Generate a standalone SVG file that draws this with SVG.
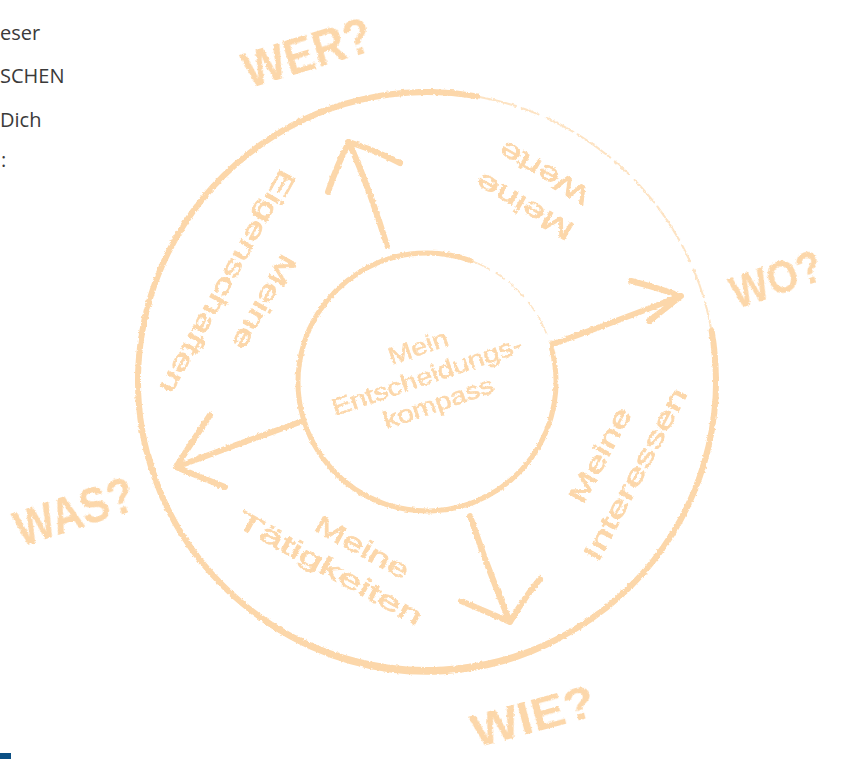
<svg xmlns="http://www.w3.org/2000/svg" width="841" height="759" viewBox="0 0 841 759">
  <style>
    .ink { fill: none; stroke: #fcd7aa; stroke-linecap: round; stroke-linejoin: round; }
    .faint { fill: none; stroke: #fcd7aa; stroke-linecap: round; opacity: 0.7; }
    .hand { font-family: "Liberation Sans", "DejaVu Sans", sans-serif; fill: #fcd7aa; text-anchor: middle; }
    .lbl { font-size: 26px; stroke: #fcd7aa; stroke-width: 0.7; }
    .big { font-size: 50px; font-weight: bold; }
    .big2 { font-size: 46px; font-weight: bold; }
    .mid { font-size: 24px; stroke: #fcd7aa; stroke-width: 0.5; }
    .side { font-family: "Open Sans", "Noto Sans", sans-serif; font-size: 20px; fill: #3a3a3a; }
  </style>
  <defs>
    <filter id="rough" x="-10%" y="-10%" width="120%" height="120%">
      <feTurbulence type="fractalNoise" baseFrequency="0.35" numOctaves="2" seed="3" result="n"/>
      <feDisplacementMap in="SourceGraphic" in2="n" scale="3" xChannelSelector="R" yChannelSelector="G"/>
    </filter>
  </defs>

  <g id="sidetext">
    <text class="side" x="0" y="40">eser</text>
    <text class="side" x="0" y="83">SCHEN</text>
    <text class="side" x="0" y="127">Dich</text>
    <text class="side" x="1" y="167">:</text>
  </g>
  <rect id="bluemark" x="0" y="753" width="11" height="6" fill="#0b4f84"/>

  <g filter="url(#rough)">
    <g id="outer-ring">
      <path class="ink" stroke-width="6" d="M711.6,330.8 A289,289 0 1 1 477.2,96.4"/>
      <path class="ink" stroke-width="2.5" d="M150,455 A286,292 0 0 0 560,640"/>
      <path class="faint" stroke-width="2" stroke-dasharray="40 6 18 9 30 5" d="M477.2,96.4 A289,289 0 0 1 711.6,330.8"/>
    </g>
    <g id="inner-ring">
      <path class="ink" stroke-width="5" d="M551.6,348.6 A129,129 0 1 1 471.1,260.8"/>
      <path class="faint" stroke-width="1.5" stroke-dasharray="20 8 10 6" d="M471.1,260.8 A129,129 0 0 1 551.6,348.6"/>
    </g>

    <g id="connectors">
      <path class="ink" stroke-width="6" d="M387,246 Q372,195 349,142 M328,192 Q337,165 349,142 Q375,150 400,163"/>
      <path class="ink" stroke-width="6" d="M553,344 Q615,322 681,296 M631,281 Q655,287 681,296 Q665,309 649,321"/>
      <path class="ink" stroke-width="6" d="M470,516 Q488,570 510,622 M461,601 Q487,612 510,622 Q524,598 540,579"/>
      <path class="ink" stroke-width="6" d="M300,422 Q238,444 176,467 M210,415 Q192,442 176,467 Q200,477 225,487"/>
    </g>

    <g id="center">
      <g transform="translate(427,376) rotate(-19)">
        <text class="hand mid" x="1" y="-22" textLength="62" lengthAdjust="spacingAndGlyphs">Mein</text>
        <text class="hand mid" x="0" y="8" textLength="200" lengthAdjust="spacingAndGlyphs">Entscheidungs-</text>
        <text class="hand mid" x="2" y="37" textLength="115" lengthAdjust="spacingAndGlyphs">kompass</text>
      </g>
    </g>

    <g id="eigenschaften">
      <g transform="translate(228,282) rotate(119)">
        <text class="hand lbl" x="0" y="-33" textLength="105" lengthAdjust="spacingAndGlyphs">Meine</text>
        <text class="hand lbl" x="0" y="9" textLength="252" lengthAdjust="spacingAndGlyphs">Eigenschaften</text>
      </g>
    </g>

    <g id="werte">
      <g transform="translate(544,173) rotate(-150)">
        <text class="hand lbl" x="0" y="-30" textLength="108" lengthAdjust="spacingAndGlyphs">Meine</text>
        <text class="hand lbl" x="0" y="9" textLength="100" lengthAdjust="spacingAndGlyphs">Werte</text>
      </g>
    </g>

    <g id="interessen">
      <g transform="translate(635,474) rotate(-62)">
        <text class="hand lbl" x="0" y="-31" textLength="104" lengthAdjust="spacingAndGlyphs">Meine</text>
        <text class="hand lbl" x="0" y="9" textLength="192" lengthAdjust="spacingAndGlyphs">Interessen</text>
      </g>
    </g>

    <g id="taetigkeiten">
      <g transform="translate(330,568) rotate(29)">
        <text class="hand lbl" x="18" y="-25" textLength="104" lengthAdjust="spacingAndGlyphs">Meine</text>
        <text class="hand lbl" x="0" y="9" textLength="208" lengthAdjust="spacingAndGlyphs">Tätigkeiten</text>
      </g>
    </g>

    <g id="wer">
      <text class="hand big" transform="translate(307,52) rotate(-17)" y="18" textLength="132" lengthAdjust="spacingAndGlyphs">WER?</text>
    </g>
    <g id="wo">
      <text class="hand big2" transform="translate(776,279) rotate(-19)" y="16" textLength="94" lengthAdjust="spacingAndGlyphs">WO?</text>
    </g>
    <g id="was">
      <text class="hand big" transform="translate(74,511) rotate(-18)" y="18" textLength="123" lengthAdjust="spacingAndGlyphs">WAS?</text>
    </g>
    <g id="wie">
      <text class="hand big2" transform="translate(533,716) rotate(-15)" y="16" textLength="126" lengthAdjust="spacingAndGlyphs">WIE?</text>
    </g>
  </g>
</svg>
